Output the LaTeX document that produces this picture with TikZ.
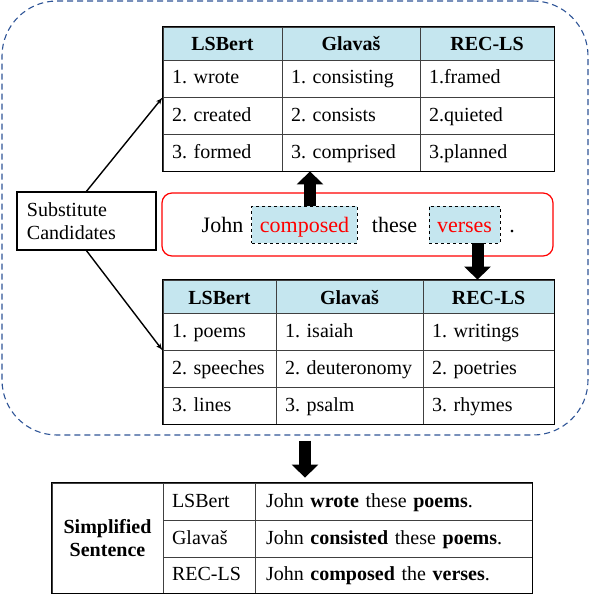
\documentclass[tikz,border=0pt]{standalone}
\usepackage{fontspec}
\setmainfont{Liberation Serif}
\usepackage{tikz}
\usetikzlibrary{shapes, arrows, arrows.meta}
\usepackage{xcolor}

\definecolor{hdrblue}{RGB}{197,230,239}
\definecolor{frameblue}{RGB}{47,85,151}

\tikzset{
  cell/.style={draw=black!75, line width=0.8pt, text width=#1, inner xsep=9pt, minimum height=37pt, align=left,
               text height=15pt, text depth=4pt},
  head/.style={cell=#1, fill=hdrblue, font=\bfseries, align=center, minimum height=33pt,
               text height=17pt, text depth=2pt},
  word/.style={draw, dashed, line width=0.9pt, fill=hdrblue, text=red, minimum height=37pt, inner xsep=8pt,
               text height=18pt, text depth=2pt, font=\fontsize{22}{26}\selectfont},
  plain/.style={text height=18pt, text depth=2pt, font=\fontsize{22}{26}\selectfont},
  blockarrow/.style={line width=12pt, -{Triangle[width=26pt, length=13pt]}},
}

\begin{document}
\begin{tikzpicture}[x=1pt, y=-1pt]\fontsize{20}{23}\selectfont\frenchspacing

        \useasboundingbox (0,0) rectangle (590,594);

        % dashed frame
        \node[draw=frameblue, line width=1.1pt, dash pattern=on 6pt off 4pt, rounded corners=55pt,
              minimum width=586pt, minimum height=434pt] (frame) at (295,218) {};

        % candidates
        \node[draw, line width=1.4pt, text width=119pt, inner xsep=10pt, minimum height=58pt, align=left] (cand) at (86.5,221) {Substitute\\Candidates};

        % upper table
        \node[head=101pt] (t11) at (222.5,43.5) {LSBert};
        \node[head=120pt] (t12) at (351,43.5) {Glavaš};
        \node[head=116pt] (t13) at (487,43.5) {REC-LS};
        \node[cell=101pt] (t21) at (222.5,78.5) {1. wrote};
        \node[cell=120pt] (t22) at (351,78.5) {1. consisting};
        \node[cell=116pt] (t23) at (487,78.5) {1.framed};
        \node[cell=101pt] (t31) at (222.5,115.5) {2. created};
        \node[cell=120pt] (t32) at (351,115.5) {2. consists};
        \node[cell=116pt] (t33) at (487,115.5) {2.quieted};
        \node[cell=101pt] (t41) at (222.5,152.5) {3. formed};
        \node[cell=120pt] (t42) at (351,152.5) {3. comprised};
        \node[cell=116pt] (t43) at (487,152.5) {3.planned};
        \draw[line width=1.6pt] (t11.north west) rectangle (t43.south east);

        % sentence
        \node[draw=red, line width=1.2pt, rounded corners=10pt, minimum width=391pt, minimum height=63pt] (sent) at (357.5,224.5) {};
        \node[plain] (john) at (222.5,224.5) {John};
        \node[word] (composed) at (304.5,224.5) {composed};
        \node[plain] (these) at (394.5,224.5) {these};
        \node[word] (verses) at (464.5,224.5) {verses};
        \node[plain] (dot) at (512,224.5) {.};

        % lower table
        \node[head=95pt] (b11) at (219.5,296.5) {LSBert};
        \node[head=129pt] (b12) at (349.5,296.5) {Glavaš};
        \node[head=113pt] (b13) at (488.5,296.5) {REC-LS};
        \node[cell=95pt] (b21) at (219.5,331.5) {1. poems};
        \node[cell=129pt] (b22) at (349.5,331.5) {1. isaiah};
        \node[cell=113pt] (b23) at (488.5,331.5) {1. writings};
        \node[cell=95pt] (b31) at (219.5,368.5) {2. speeches};
        \node[cell=129pt] (b32) at (349.5,368.5) {2. deuteronomy};
        \node[cell=113pt] (b33) at (488.5,368.5) {2. poetries};
        \node[cell=95pt] (b41) at (219.5,405.5) {3. lines};
        \node[cell=129pt] (b42) at (349.5,405.5) {3. psalm};
        \node[cell=113pt] (b43) at (488.5,405.5) {3. rhymes};
        \draw[line width=1.6pt] (b11.north west) rectangle (b43.south east);

        % simplified sentences
        \node[draw=black!75, line width=0.8pt, text width=93pt, inner xsep=9pt, minimum height=110pt, align=center, font=\bfseries] (simp) at (107.5,538) {Simplified\\Sentence};
        \node[cell=74pt] (sl1) at (209,501.5) {LSBert};
        \node[cell=74pt] (sl2) at (209,538.5) {Glavaš};
        \node[cell=74pt, minimum height=36pt] (sl3) at (209,575) {REC-LS};
        \node[cell=255pt, inner xsep=11pt] (sr1) at (393.5,501.5) {John \textbf{wrote} these \textbf{poems}.};
        \node[cell=255pt, inner xsep=11pt] (sr2) at (393.5,538.5) {John \textbf{consisted} these \textbf{poems}.};
        \node[cell=255pt, inner xsep=11pt, minimum height=36pt] (sr3) at (393.5,575) {John \textbf{composed} the \textbf{verses}.};
        \draw[line width=1.4pt] (simp.north west) rectangle (sr3.south east);

        % arrows
        \draw[-latex', line width=1.4pt] (cand.north) to (t21.south west);
        \draw[-latex', line width=1.4pt] (cand.south) to (b21.south west);

        \coordinate (upfoot) at ([xshift=5.5pt]composed.north);
        \draw[blockarrow] (upfoot) -- (upfoot |- t42.south);
        \coordinate (dnfoot) at ([xshift=13pt]verses.south);
        \draw[blockarrow] (dnfoot) -- (dnfoot |- b13.north);
        \coordinate (outfoot) at ([xshift=10pt, yshift=-5pt]frame.south);
        \coordinate (outtip) at (outfoot |- sl1.north);
        \draw[blockarrow] (outfoot) -- ([yshift=5pt]outtip);

    \end{tikzpicture}
\end{document}
